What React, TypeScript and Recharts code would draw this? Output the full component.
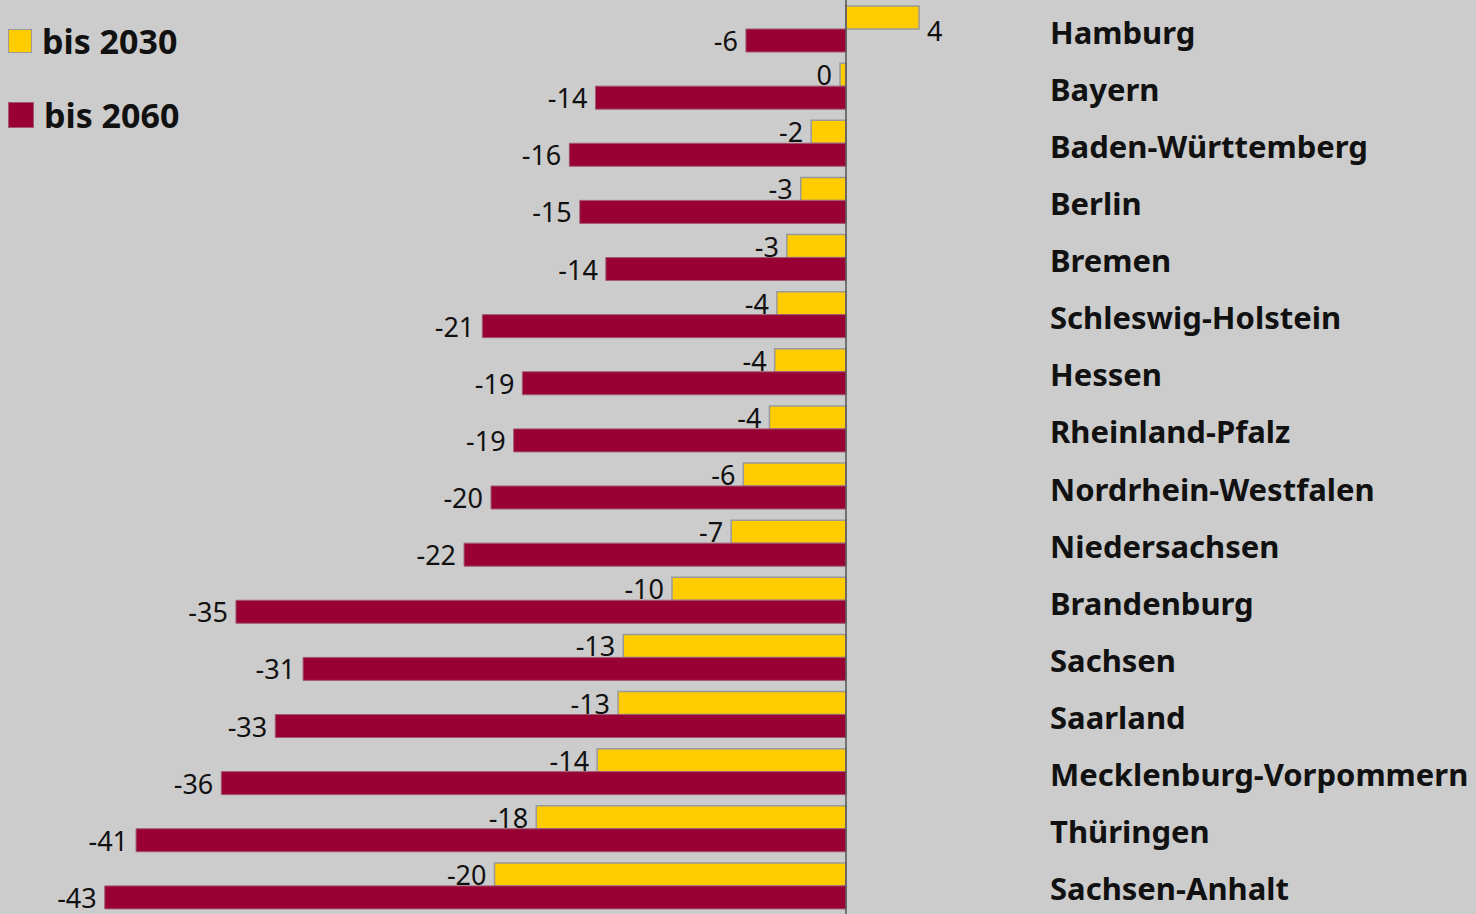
import React from "react";
import { BarChart, Bar, XAxis, YAxis, ReferenceLine, LabelList } from "recharts";

const states = [
  "Hamburg",
  "Bayern",
  "Baden-Württemberg",
  "Berlin",
  "Bremen",
  "Schleswig-Holstein",
  "Hessen",
  "Rheinland-Pfalz",
  "Nordrhein-Westfalen",
  "Niedersachsen",
  "Brandenburg",
  "Sachsen",
  "Saarland",
  "Mecklenburg-Vorpommern",
  "Thüringen",
  "Sachsen-Anhalt",
];

const bis2030 = [4.2, -0.34, -2.0, -2.6, -3.4, -3.97, -4.1, -4.4, -5.9, -6.6, -10.0, -12.8, -13.1, -14.3, -17.8, -20.2];
const bis2060 = [-5.75, -14.4, -15.9, -15.3, -13.8, -20.9, -18.6, -19.1, -20.4, -21.95, -35.06, -31.2, -32.8, -35.9, -40.8, -42.6];

const seriesNames = ["bis 2030", "bis 2060"];
const seriesColors = ["#ffcc00", "#990033"];

const data = states.map((name, i) => ({ name, a: bis2030[i], b: bis2060[i] }));

const FONT = "'Noto Sans', 'Open Sans', sans-serif";

const ValueLabel = (props: any) => {
  const { x, y, width, height, value } = props;
  const left = Math.min(x, x + width);
  const right = Math.max(x, x + width);
  const cy = y + height / 2;
  const txt = String(Math.round(value));
  if (value >= 0.5) {
    return (
      <text x={right + 8} y={cy + 13} fontSize={27} fontFamily={FONT} fill="#111" textAnchor="start" dominantBaseline="central">
        {txt}
      </text>
    );
  }
  return (
    <text x={left - 8} y={cy} fontSize={27} fontFamily={FONT} fill="#111" textAnchor="end" dominantBaseline="central">
      {txt}
    </text>
  );
};

const StateTick = (props: any) => {
  const { y, payload } = props;
  return (
    <text x={1050} y={y + 3} fontSize={31} fontWeight="bold" fontFamily={FONT} fill="#111" textAnchor="start" dominantBaseline="central">
      {payload.value}
    </text>
  );
};

export default function App() {
  return (
    <div style={{ position: "absolute", left: 0, top: 0, width: 1476, height: 914, background: "#cccccc", overflow: "hidden" }}>
      <BarChart
        width={1476}
        height={914}
        data={data}
        layout="vertical"
        margin={{ top: 0, right: 0, bottom: 0, left: 0 }}
        barGap={0}
      >
        <XAxis type="number" hide domain={[-48.62, 11.15]} allowDataOverflow />
        <YAxis
          type="category"
          dataKey="name"
          orientation="right"
          width={436}
          axisLine={false}
          tickLine={false}
          tick={<StateTick />}
          interval={0}
        />
        <Bar dataKey="a" name={seriesNames[0]} fill={seriesColors[0]} stroke="#999999" strokeWidth={1.5} barSize={23} isAnimationActive={false}>
          <LabelList dataKey="a" content={<ValueLabel />} />
        </Bar>
        <Bar dataKey="b" name={seriesNames[1]} fill={seriesColors[1]} stroke="#a25a72" strokeWidth={1} barSize={23} isAnimationActive={false}>
          <LabelList dataKey="b" content={<ValueLabel />} />
        </Bar>
        <ReferenceLine x={0} stroke="#555555" strokeWidth={1.5} ifOverflow="extendDomain" />
      </BarChart>
      <div style={{ position: "absolute", left: 8, top: 28, fontFamily: FONT, fontWeight: "bold", fontSize: 34, color: "#111" }}>
        {seriesNames.map((n, i) => (
          <div key={n} style={{ display: "flex", alignItems: "center", height: 26, marginBottom: i === 0 ? 48 : 0 }}>
            <span
              style={{
                display: "inline-block",
                width: i === 0 ? 22 : 24,
                height: i === 0 ? 22 : 24,
                background: seriesColors[i],
                border: i === 0 ? "1px solid #999" : "1px solid #a25a72",
                marginRight: 10,
              }}
            />
            <span style={{ lineHeight: "26px" }}>{n}</span>
          </div>
        ))}
      </div>
    </div>
  );
}
